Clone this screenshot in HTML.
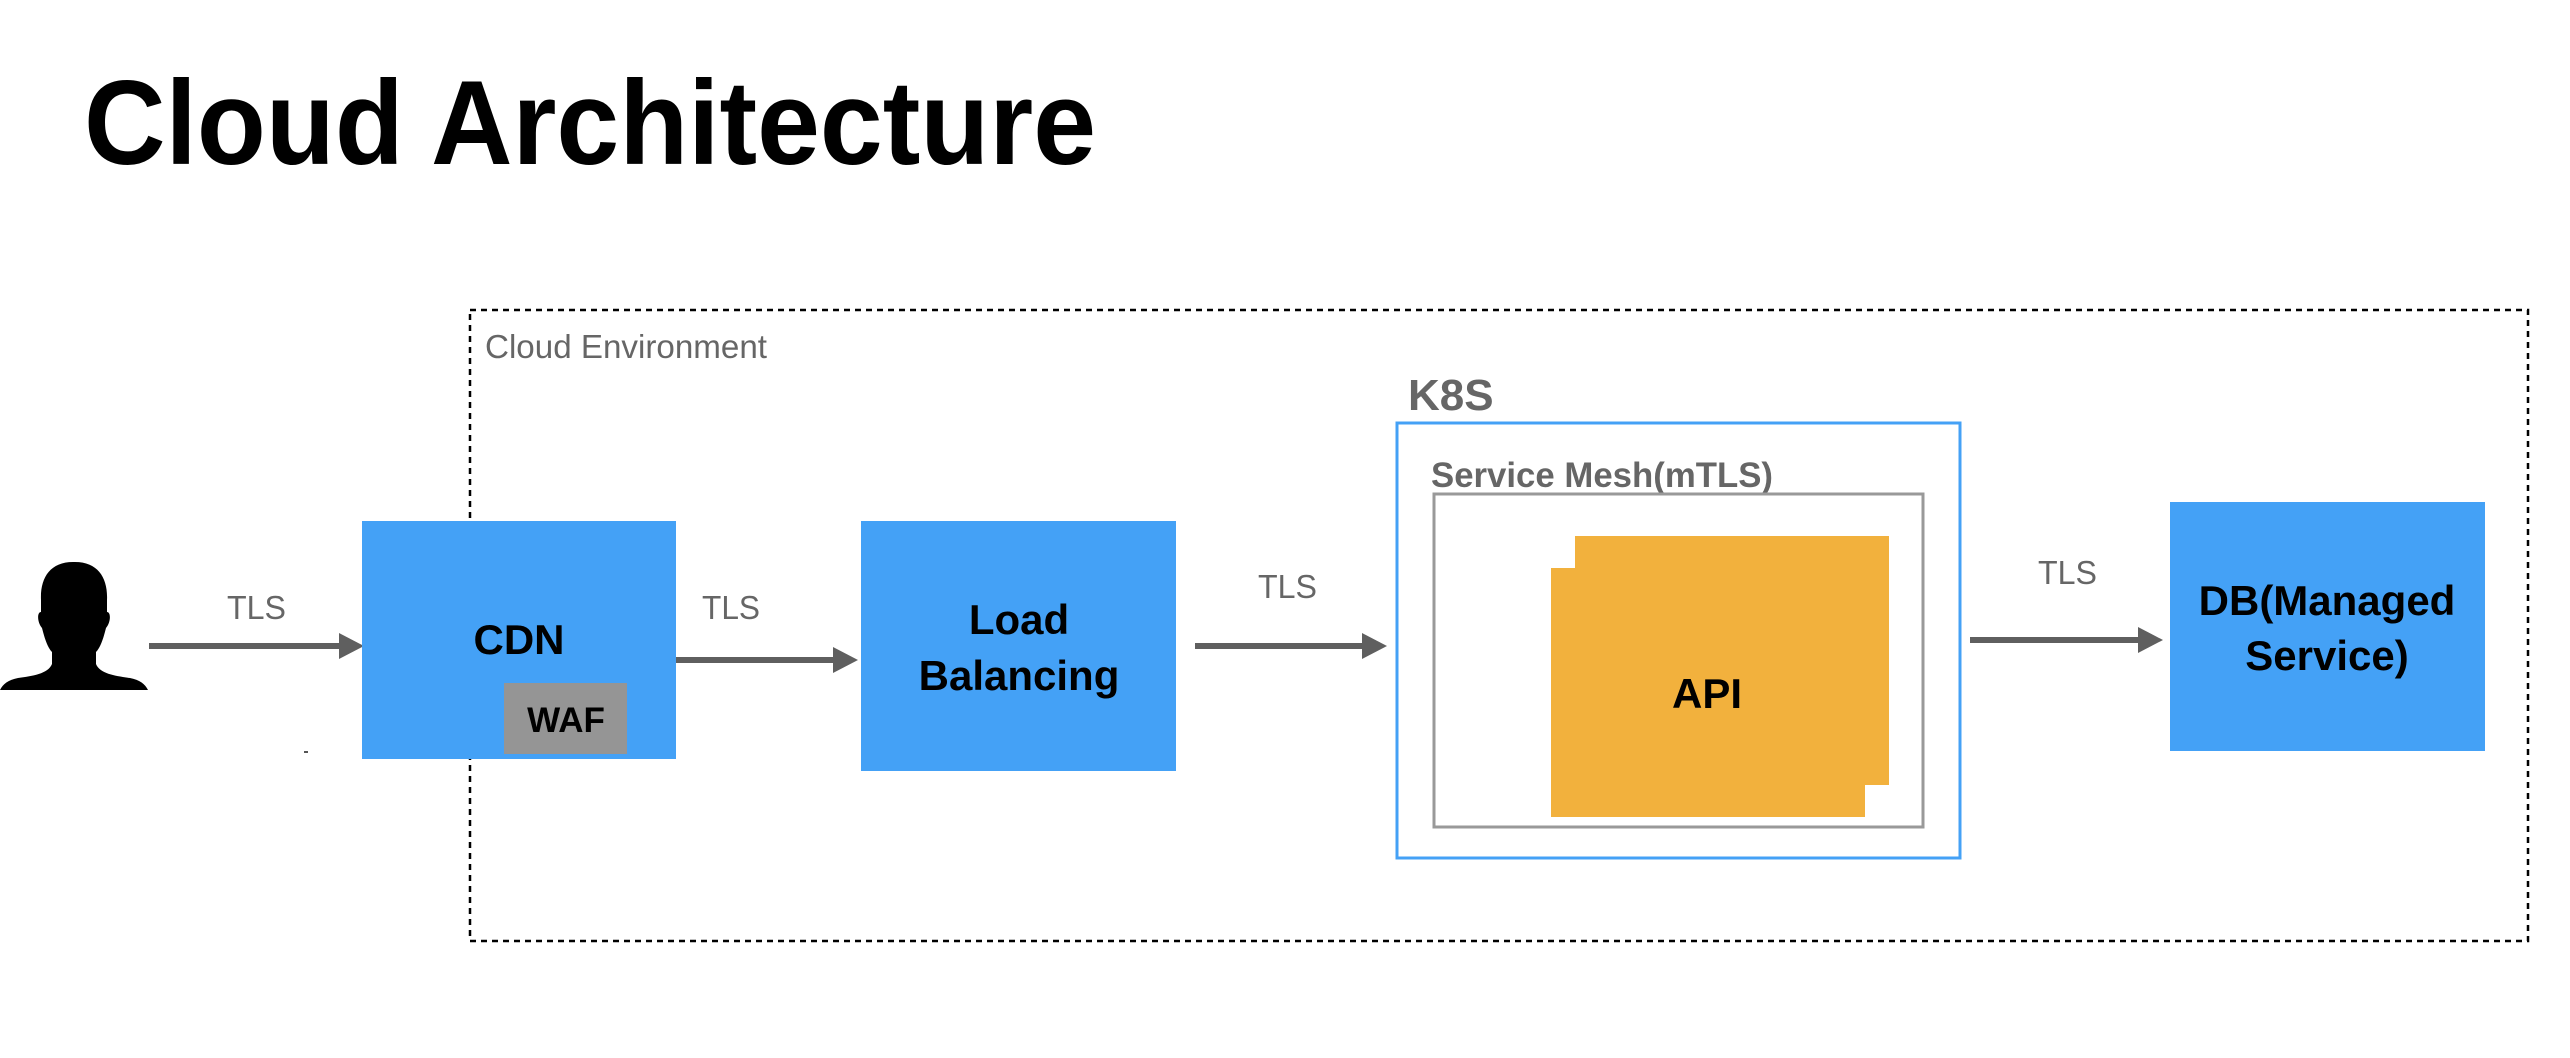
<!DOCTYPE html>
<html><head><meta charset="utf-8"><style>
html,body{margin:0;padding:0;background:#fff;}
svg{display:block;}
text{font-family:"Liberation Sans",Arial,sans-serif;}
</style></head><body>
<svg width="2570" height="1058" viewBox="0 0 2570 1058" xmlns="http://www.w3.org/2000/svg">
<rect width="2570" height="1058" fill="#fff"/>
<text x="84" y="164" font-size="120" font-weight="bold" fill="#000" textLength="1012" lengthAdjust="spacingAndGlyphs">Cloud Architecture</text>

<rect x="470" y="310" width="2058" height="631" fill="none" stroke="#000" stroke-width="2.5" stroke-dasharray="6,5"/>
<text x="485" y="358" font-size="33" fill="#666" textLength="282" lengthAdjust="spacingAndGlyphs">Cloud Environment</text>

<!-- person -->
<path d="M73 562 C50 562 40 578 41 600 L41 612 C37 612 37 622 42 628 C45 640 48 648 52 652 L52 664 C48 674 32 676 18 678 C8 680 3 684 0 690 L148 690 C145 684 140 680 130 678 C116 676 100 674 96 664 L96 652 C100 648 103 640 106 628 C111 622 111 612 107 612 L107 600 C108 578 98 562 75 562 Z" fill="#000"/>

<g fill="#666" font-size="33">
<text x="227" y="619" textLength="59" lengthAdjust="spacingAndGlyphs">TLS</text>
<text x="702" y="619" textLength="58" lengthAdjust="spacingAndGlyphs">TLS</text>
<text x="1258" y="598" textLength="59" lengthAdjust="spacingAndGlyphs">TLS</text>
<text x="2038" y="584" textLength="59" lengthAdjust="spacingAndGlyphs">TLS</text>
</g>

<!-- arrows -->
<g stroke="#5f5f5f" stroke-width="6">
<line x1="149" y1="646" x2="342" y2="646"/>
<line x1="665" y1="660" x2="836" y2="660"/>
<line x1="1195" y1="646" x2="1365" y2="646"/>
<line x1="1970" y1="640" x2="2141" y2="640"/>
</g>
<g fill="#5f5f5f">
<polygon points="339,633 364,646 339,659"/>
<polygon points="833,647 858,660 833,673"/>
<polygon points="1362,633 1387,646 1362,659"/>
<polygon points="2138,627 2163,640 2138,653"/>
</g>

<!-- CDN -->
<rect x="362" y="521" width="314" height="238" fill="#44A1F6"/>
<text x="519" y="654" font-size="42" font-weight="bold" text-anchor="middle" fill="#000">CDN</text>
<rect x="504" y="683" width="123" height="71" fill="#959595"/>
<text x="566" y="732" font-size="35" font-weight="bold" text-anchor="middle" fill="#000">WAF</text>
<rect x="304" y="751" width="4" height="2" fill="#555"/>

<!-- LB -->
<rect x="861" y="521" width="315" height="250" fill="#44A1F6"/>
<text x="1019" y="634" font-size="42" font-weight="bold" text-anchor="middle" fill="#000">Load</text>
<text x="1019" y="690" font-size="42" font-weight="bold" text-anchor="middle" fill="#000">Balancing</text>

<!-- K8S -->
<text x="1408" y="410" font-size="44" font-weight="bold" fill="#666">K8S</text>
<rect x="1397" y="423" width="563" height="435" fill="none" stroke="#44A1F6" stroke-width="3"/>
<text x="1431" y="487" font-size="35" font-weight="bold" fill="#666" textLength="342" lengthAdjust="spacingAndGlyphs">Service Mesh(mTLS)</text>
<rect x="1434" y="494" width="489" height="333" fill="none" stroke="#999" stroke-width="3"/>
<rect x="1575" y="536" width="314" height="249" fill="#F2B13D"/>
<rect x="1551" y="568" width="314" height="249" fill="#F2B13D"/>
<text x="1707" y="708" font-size="42" font-weight="bold" text-anchor="middle" fill="#000">API</text>

<!-- DB -->
<rect x="2170" y="502" width="315" height="249" fill="#44A1F6"/>
<text x="2327" y="615" font-size="42" font-weight="bold" text-anchor="middle" fill="#000">DB(Managed</text>
<text x="2327" y="670" font-size="42" font-weight="bold" text-anchor="middle" fill="#000">Service)</text>
</svg>
</body></html>
